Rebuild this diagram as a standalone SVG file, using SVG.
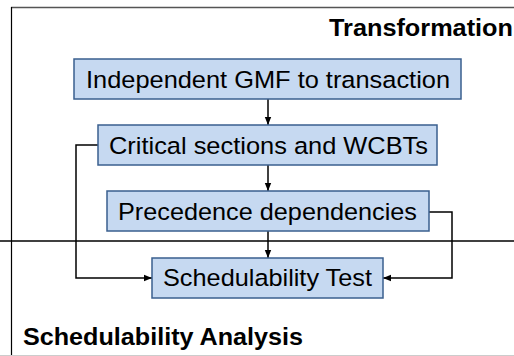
<svg xmlns="http://www.w3.org/2000/svg" width="514" height="356" viewBox="0 0 514 356">
<style>
.box{fill:#C6D9F1;stroke:#3A5F8E;stroke-width:1.5}
.lbl{font-family:"Liberation Sans",Arial,sans-serif;font-size:24.5px;fill:#000}
.ttl{font-family:"Liberation Sans",Arial,sans-serif;font-size:23px;font-weight:bold;fill:#000}
.con{fill:none;stroke:#000;stroke-width:1.5}
</style>
<defs>
<marker id="ah" viewBox="0 0 10 10" refX="10" refY="5" markerWidth="8" markerHeight="8" markerUnits="userSpaceOnUse" orient="auto">
<path d="M0,1 L10,5 L0,9 z" fill="#000"/>
</marker>
</defs>
<rect width="514" height="356" fill="#fff"/>
<g id="frame">
<line x1="11" y1="7.5" x2="514" y2="7.5" stroke="#555" stroke-width="1.5"/>
<line x1="11.5" y1="7" x2="11.5" y2="356" stroke="#000" stroke-width="1.2"/>
<line x1="0" y1="241" x2="514" y2="241" stroke="#000" stroke-width="1.4"/>
<line x1="0" y1="355.5" x2="514" y2="355.5" stroke="#ccc" stroke-width="1"/>
<text class="ttl" x="329" y="36" textLength="184" lengthAdjust="spacingAndGlyphs">Transformation</text>
<text class="ttl" x="23" y="345" textLength="280" lengthAdjust="spacingAndGlyphs">Schedulability Analysis</text>
</g>
<g id="connectors">
<line class="con" x1="268" y1="99" x2="268" y2="125" marker-end="url(#ah)"/>
<line class="con" x1="268" y1="165" x2="268" y2="191" marker-end="url(#ah)"/>
<line class="con" x1="268" y1="231" x2="268" y2="258" marker-end="url(#ah)"/>
<polyline class="con" points="98,145 76,145 76,278 152,278" marker-end="url(#ah)"/>
<polyline class="con" points="429,212 452,212 452,278 383,278" marker-end="url(#ah)"/>
</g>
<g id="n1">
<rect class="box" x="74" y="59" width="387" height="40"/>
<text class="lbl" x="86" y="87.5" textLength="364" lengthAdjust="spacingAndGlyphs">Independent GMF to transaction</text>
</g>
<g id="n2">
<rect class="box" x="98" y="125" width="339" height="40"/>
<text class="lbl" x="109" y="154" textLength="319" lengthAdjust="spacingAndGlyphs">Critical sections and WCBTs</text>
</g>
<g id="n3">
<rect class="box" x="107" y="191" width="322" height="40"/>
<text class="lbl" x="118" y="220" textLength="299" lengthAdjust="spacingAndGlyphs">Precedence dependencies</text>
</g>
<g id="n4">
<rect class="box" x="152" y="258" width="231" height="40"/>
<text class="lbl" x="163" y="286" textLength="209" lengthAdjust="spacingAndGlyphs">Schedulability Test</text>
</g>
</svg>
